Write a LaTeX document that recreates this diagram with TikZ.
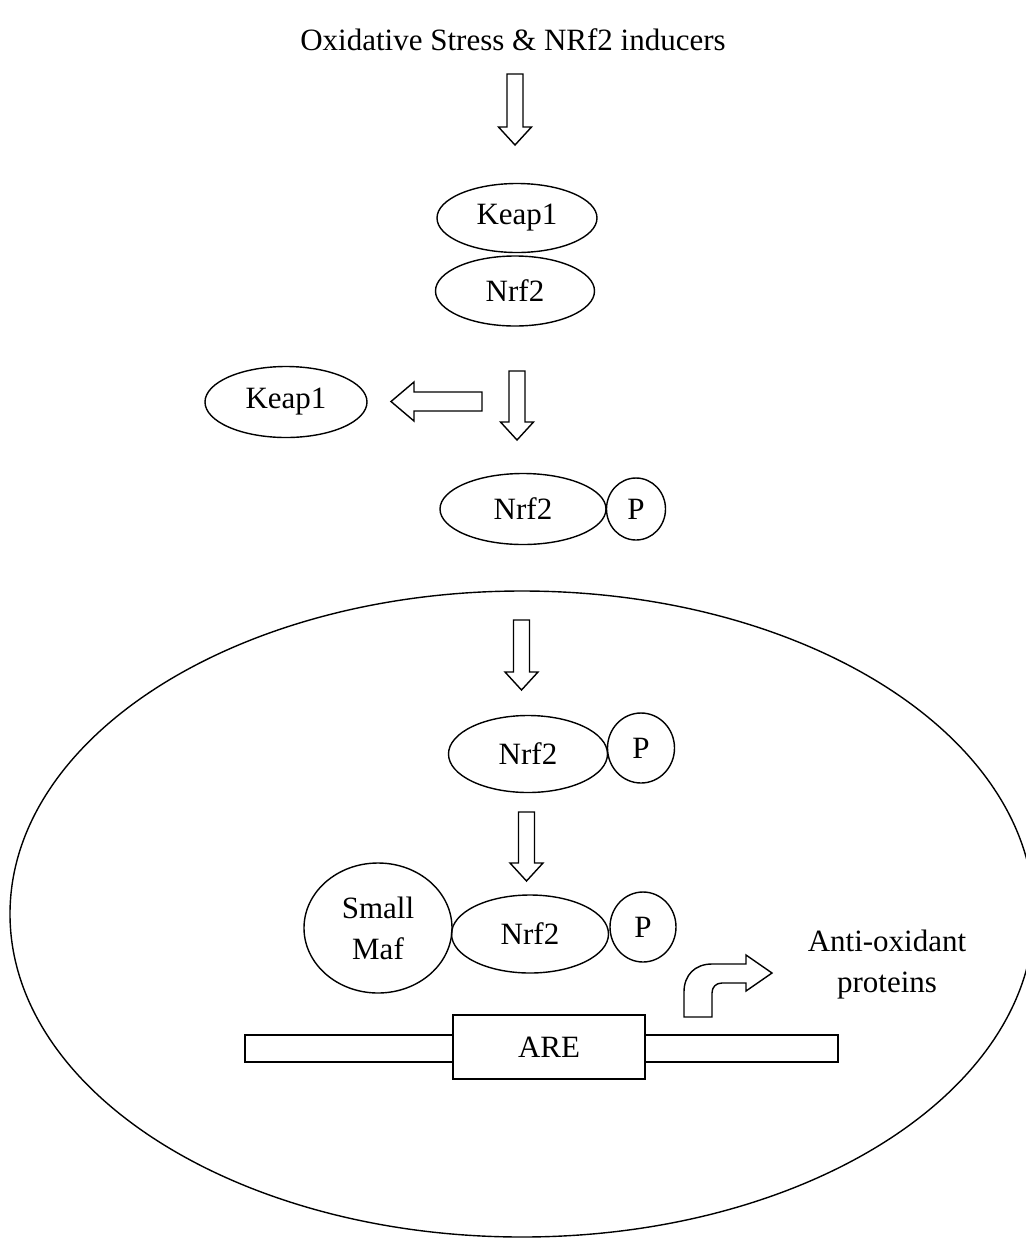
\documentclass[tikz,border=0pt]{standalone}
\usepackage{fontspec}
\setmainfont{Liberation Serif}
\usetikzlibrary{shapes.geometric,calc}
\newcommand{\figfont}{\fontsize{15.5pt}{20.5pt}\selectfont}
\tikzset{
  outline/.style={draw=black,line width=0.7pt},
  prot/.style={outline,ellipse,inner sep=0pt,font=\figfont},
  phos/.style={prot},
  lbl/.style={font=\figfont,align=center,inner sep=0pt},
  rectbox/.style={outline,fill=white,rectangle,inner sep=0pt,font=\figfont},
  blk/.style={outline,fill=white,line join=miter},
  downblock/.style={to path={let \p1=(\tikztostart), \p2=(\tikztotarget) in
    (\x1-4pt,\y1) -- (\x1-4pt,\y2+9pt) -- (\x1-8.25pt,\y2+9pt) -- (\x1,\y2)
    -- (\x1+8.25pt,\y2+9pt) -- (\x1+4pt,\y2+9pt) -- (\x1+4pt,\y1) -- cycle}},
  leftblock/.style={to path={let \p1=(\tikztostart), \p2=(\tikztotarget) in
    (\x1,\y1+4.75pt) -- (\x2+11.5pt,\y1+4.75pt) -- (\x2+11.5pt,\y1+9.75pt) -- (\x2,\y1)
    -- (\x2+11.5pt,\y1-9.75pt) -- (\x2+11.5pt,\y1-4.75pt) -- (\x1,\y1-4.75pt) -- cycle}},
}
\begin{document}
\begin{tikzpicture}[x=0.5pt,y=-0.5pt]
  \useasboundingbox (0,0) rectangle (1026,1238);
  % nucleus
  \draw[outline] (522,914) ellipse [x radius=256pt,y radius=161.5pt];

  \node[lbl] (title) at (513,40) {Oxidative Stress \& NRf2 inducers};

  % cytoplasm
  \node[prot,minimum width=80pt,minimum height=34.5pt] (keapA) at (517,218) {Keap1};
  \node[prot,minimum width=79.5pt,minimum height=35pt] (nrfA) at (515,291) {Nrf2};
  \node[prot,minimum width=81pt,minimum height=35.5pt] (keapB) at (286,402) {Keap1};
  \node[prot,minimum width=83pt,minimum height=35.5pt] (nrfB) at (523,509) {Nrf2};
  \node[phos,minimum width=29.5pt,minimum height=31pt] (pB) at (636,509) {P};

  % nucleus contents
  \node[prot,minimum width=79.5pt,minimum height=38.5pt] (nrfC) at (528,754) {Nrf2};
  \node[phos,minimum width=33.5pt,minimum height=35pt] (pC) at (641,748) {P};
  \node[prot,minimum width=74pt,minimum height=65pt,align=center] (maf) at (378,928) {Small\\Maf};
  \node[prot,minimum width=78.5pt,minimum height=39pt] (nrfD) at (530,934) {Nrf2};
  \node[phos,minimum width=33pt,minimum height=35pt] (pD) at (643,927) {P};

  \node[rectbox,minimum width=296.5pt,minimum height=13.5pt] (dna) at (541.5,1048.5) {};
  \node[rectbox,minimum width=96pt,minimum height=32pt] (are) at (549,1047) {ARE};
  \node[lbl] (aop) at (887,965) {Anti-oxidant\\proteins};

  % block arrows
  \coordinate (a1s) at (515,74);    \coordinate (a1e) at (515,145);
  \coordinate (a2s) at (517,371);   \coordinate (a2e) at (517,440);
  \coordinate (a3s) at (521.5,620); \coordinate (a3e) at (521.5,690);
  \coordinate (a4s) at (526.5,812); \coordinate (a4e) at (526.5,881);
  \coordinate (a5s) at (482,401.5); \coordinate (a5e) at (391,401.5);
  \draw[blk,downblock] (a1s) to (a1e);
  \draw[blk,downblock] (a2s) to (a2e);
  \draw[blk,downblock] (a3s) to (a3e);
  \draw[blk,downblock] (a4s) to (a4e);
  \draw[blk,leftblock] (a5s) to (a5e);

  % bent arrow out of the gene
  \draw[blk] (684,1017) -- (684,992) .. controls (684,975) and (695,964) .. (712,964)
    -- (746,964) -- (746,955) -- (772,973) -- (746,991) -- (746,983) -- (722,983)
    .. controls (716,983) and (712,987) .. (712,993) -- (712,1017) -- cycle;
\end{tikzpicture}
\end{document}
